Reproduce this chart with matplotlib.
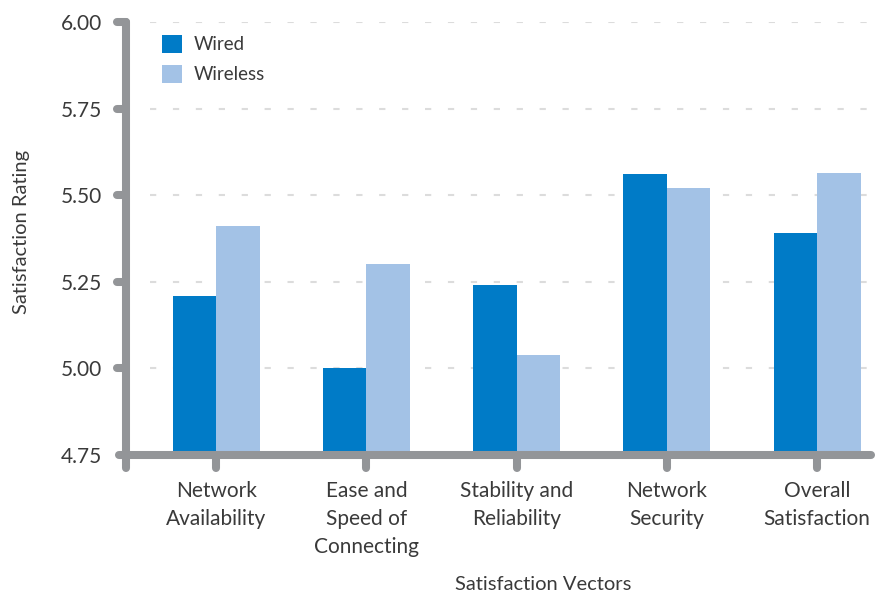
import numpy as np
import matplotlib
matplotlib.use("Agg")
import matplotlib.pyplot as plt
from matplotlib.patches import Patch

# data
categories = ["Network\nAvailability", "Ease and\nSpeed of\nConnecting",
              "Stability and\nReliability", "Network\nSecurity", "Overall\nSatisfaction"]
wired = [5.21, 5.00, 5.24, 5.56, 5.39]
wireless = [5.41, 5.30, 5.04, 5.52, 5.565]
y_ticks = [4.75, 5.00, 5.25, 5.50, 5.75, 6.00]

c_wired = "#007bc7"
c_wireless = "#a3c2e6"
c_axis = "#939598"
c_text = "#3a3a3a"

plt.rcParams["font.family"] = ["Lato", "DejaVu Sans"]

fig = plt.figure(figsize=(8.79, 6.01), dpi=100)
ax = fig.add_axes([126 / 879, 1 - 455 / 601, 749 / 879, 433 / 601])

x = np.arange(len(categories))
w = 0.29
ax.bar(x - w / 2, wired, w, bottom=0, color=c_wired, zorder=3)
ax.bar(x + w / 2, wireless, w, bottom=0, color=c_wireless, zorder=3)

ax.set_ylim(4.75, 6.00)
ax.set_xlim(-0.6, 4.385)

# dashed grid, starting a bit right of the y axis
for yv in y_ticks[1:]:
    ax.axhline(yv, xmin=0.032, xmax=1, color="#dcdcdc", lw=1.5,
               dashes=(3, 8), zorder=1)

for s in ax.spines.values():
    s.set_visible(False)

# thick rounded axis lines and ticks
lw = 5.8
kw = dict(color=c_axis, lw=lw, solid_capstyle="round", clip_on=False, zorder=4)
ax.plot([0, 0], [1, -0.03], transform=ax.transAxes, **kw)
ax.plot([-0.0093, 0.9947], [0, 0], transform=ax.transAxes, **kw)
ytr = ax.get_yaxis_transform()
for yv in y_ticks[1:]:
    ax.plot([0, -0.012], [yv, yv], transform=ytr, **kw)
xtr = ax.get_xaxis_transform()
for xv in x:
    ax.plot([xv, xv], [0, -0.03], transform=xtr, **kw)

ax.set_yticks(y_ticks)
ax.set_yticklabels([f"{v:.2f}" for v in y_ticks])
ax.set_xticks(x)
ax.set_xticklabels(categories, linespacing=1.5)
ax.tick_params(axis="y", length=0, pad=17, labelsize=15, labelcolor=c_text)
ax.tick_params(axis="x", length=0, pad=19, labelsize=15, labelcolor=c_text)

fig.text(22 / 879, 1 - 232 / 601, "Satisfaction Rating", rotation=90,
         ha="center", va="center", fontsize=14.5, color=c_text)
fig.text(543 / 879, 1 - 585 / 601, "Satisfaction Vectors",
         ha="center", va="center", fontsize=14.5, color=c_text)

handles = [Patch(facecolor=c_wired, label="Wired"),
           Patch(facecolor=c_wireless, label="Wireless")]
leg = ax.legend(handles=handles, loc="upper left", bbox_to_anchor=(0.03, 1.0),
                frameon=False, fontsize=13.5, handlelength=1.1, handleheight=1.1,
                handletextpad=0.6, labelspacing=0.6, borderaxespad=0.3)
for t in leg.get_texts():
    t.set_color(c_text)

fig.savefig("out.png", dpi=100)
